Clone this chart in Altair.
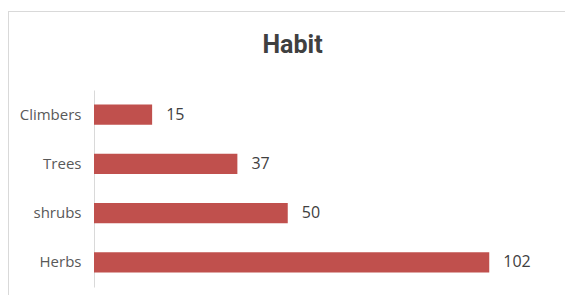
import altair as alt
import pandas as pd

categories = ["Climbers", "Trees", "shrubs", "Herbs"]
values = [15, 37, 50, 102]
title_text = ["Habit"]

df = pd.DataFrame({"habit": categories, "count": values})
tdf = pd.DataFrame({"t": title_text})

W, H = 465, 197

y_enc = alt.Y("habit:N", sort=categories, title=None,
              scale=alt.Scale(paddingInner=0.59, paddingOuter=0.295),
              axis=alt.Axis(domainColor="#d9d9d9", domainWidth=1, ticks=False,
                            labelPadding=13, labelFontSize=15, labelColor="#595959",
                            labelFont="Open Sans"))
x_enc = alt.X("count:Q", scale=alt.Scale(domain=[0, 120]), axis=None)

bars = alt.Chart(df).mark_bar(color="#C0504D").encode(x=x_enc, y=y_enc)
labels = alt.Chart(df).mark_text(align="left", baseline="middle", dx=14,
                                 fontSize=16, color="#404040", font="Open Sans").encode(
    x=x_enc, y=alt.Y("habit:N", sort=categories), text="count:Q")

frame = alt.Chart(df).mark_rect(fill=None, stroke="#d9d9d9", strokeWidth=1, clip=False).encode(
    x=alt.value(-85.5), x2=alt.value(W + 40), y=alt.value(-78.5), y2=alt.value(H + 40))

title = alt.Chart(tdf).mark_text(font="Roboto", fontSize=25, fontWeight="bold",
                                 color="#404040", align="center", baseline="alphabetic").encode(
    x=alt.value(198.5), y=alt.value(-37), text="t:N")

chart = alt.layer(frame, bars, labels, title).properties(
    width=W, height=H,
    autosize=alt.AutoSizeParams(type="none"),
    padding={"left": 86, "top": 82, "right": 6, "bottom": 8},
).configure_view(stroke=None)

chart.save("out.html", embed_options={"renderer": "svg", "actions": False})
